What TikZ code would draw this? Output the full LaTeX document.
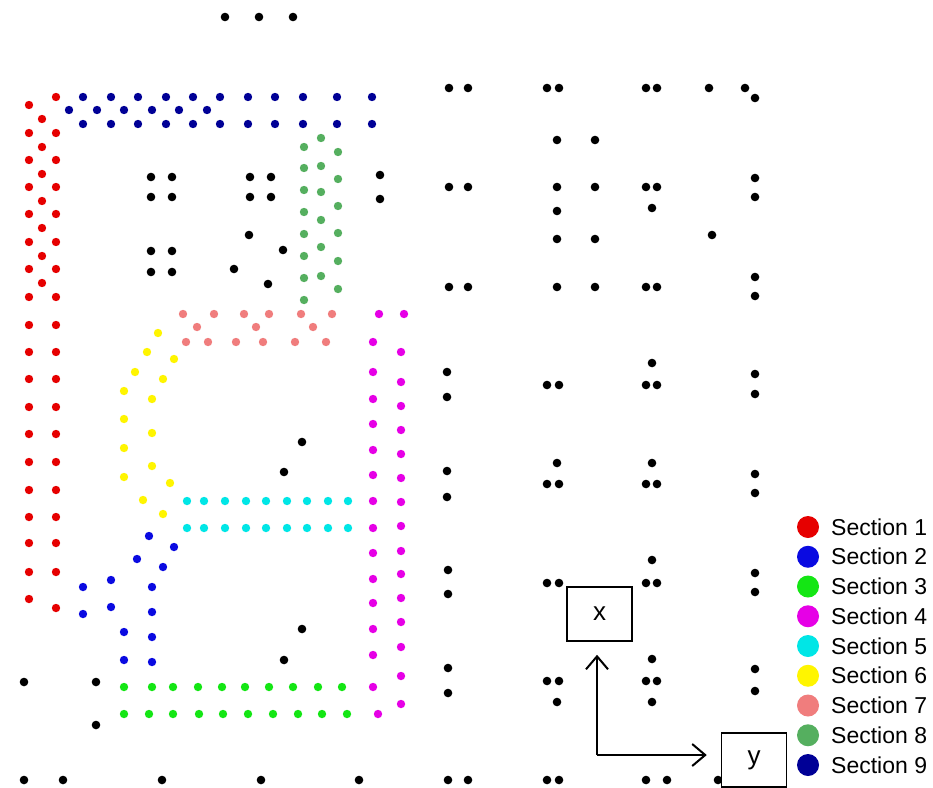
\documentclass[tikz,border=0pt]{standalone}
\usepackage{fontspec}
\setmainfont{Liberation Sans}
\usetikzlibrary{arrows.meta}
\definecolor{sOne}{RGB}{230,0,0}
\definecolor{sTwo}{RGB}{10,10,225}
\definecolor{sThree}{RGB}{20,230,20}
\definecolor{sFour}{RGB}{230,0,230}
\definecolor{sFive}{RGB}{0,230,230}
\definecolor{sSix}{RGB}{255,245,0}
\definecolor{sSeven}{RGB}{240,125,125}
\definecolor{sEight}{RGB}{85,175,95}
\definecolor{sNine}{RGB}{0,0,150}
\tikzset{
  legdot/.style={circle,inner sep=0pt,minimum size=22pt},
  legtext/.style={anchor=west,inner sep=0pt,font=\fontsize{23}{25}\selectfont},
  axbox/.style={draw,line width=1.5pt,fill=white,minimum width=65pt,minimum height=54pt,inner sep=0pt,font=\fontsize{26}{28}\selectfont},
  axline/.style={line width=2pt,-{Straight Barb[length=13pt,width=22pt,line width=2pt]}}
}
\begin{document}
\begin{tikzpicture}[x=1pt,y=-1pt]
\useasboundingbox[fill=white] (0,0) rectangle (933,787);
% black dots
\foreach \a/\b in {225/17,259/17,293/17,
151/177,172/177,151/197,172/197,250/177,271/177,250/197,271/197,380/175,380/199,249/235,283/250,151/251,172/251,151/272,172/272,234/269,268/284,
302/442,284/472,302/629,284/660,24/682,96/682,96/725,24/780,63/780,162/780,261/780,359/780,
449/88,468/88,547/88,559/88,646/88,657/88,709/88,745/88,755/98,557/140,595/140,
449/187,468/187,557/187,595/187,646/187,657/187,755/178,755/197,557/211,652/208,557/239,595/239,712/235,
449/287,468/287,557/287,595/287,646/287,657/287,755/277,755/296,
447/372,447/397,547/385,559/385,652/363,646/385,657/385,755/374,755/394,
447/471,447/497,557/463,547/484,559/484,652/463,646/484,657/484,755/474,755/493,
448/570,448/594,547/583,559/583,652/560,646/583,657/583,755/573,755/592,
448/668,448/693,547/681,559/681,557/702,652/659,646/681,657/681,652/702,755/669,755/691,
448/780,468/780,547/780,559/780,646/780,667/780,718/780}
  \fill[black] (\a,\b) circle (4.3pt);
% section 1
\foreach \a/\b in {29/105,56/97,42/119,29/133,56/133,42/147,29/160,56/160,42/174,29/187,56/187,42/201,29/214,56/214,42/228,29/242,56/242,42/256,29/269,56/269,42/283,29/297,56/297,29/599,56/608}
  \fill[sOne] (\a,\b) circle (4.2pt);
\foreach \b in {325,352,379,407,434,462,490,517,543,572}
  {\fill[sOne] (29,\b) circle (4.2pt); \fill[sOne] (56,\b) circle (4.2pt);}
% section 9
\foreach \a in {83,111,138,166,193,220,248,275,303,337,372}
  {\fill[sNine] (\a,97) circle (4.2pt); \fill[sNine] (\a,124) circle (4.2pt);}
\foreach \a in {69,97,124,152,179,207}
  \fill[sNine] (\a,110) circle (4.2pt);
% section 8
\foreach \a/\b in {321/138,304/147,338/152,304/168,321/166,338/179,304/190,321/192,338/206,304/212,321/220,338/233,304/234,321/247,304/256,338/261,304/278,321/276,338/289,304/300}
  \fill[sEight] (\a,\b) circle (4.2pt);
% section 7
\foreach \a in {183,214,244,269,301,332}
  \fill[sSeven] (\a,314) circle (4.2pt);
\foreach \a in {197,256,313}
  \fill[sSeven] (\a,327) circle (4.2pt);
\foreach \a in {186,208,236,263,295,326}
  \fill[sSeven] (\a,342) circle (4.2pt);
% section 4
\foreach \a/\b in {379/314,404/314,378/714}
  \fill[sFour] (\a,\b) circle (4.2pt);
\foreach \b in {342,372,399,424,450,475,501,528,553,579,603,629,655,687}
  \fill[sFour] (373,\b) circle (4.2pt);
\foreach \b in {352,382,406,430,454,478,502,526,551,574,598,622,647,676,704}
  \fill[sFour] (401,\b) circle (4.2pt);
% section 6
\foreach \a/\b in {158/333,147/352,174/359,135/372,163/379,124/391,152/399,124/419,152/433,124/448,152/466,124/477,170/483,143/500,163/514}
  \fill[sSix] (\a,\b) circle (4.2pt);
% section 5
\foreach \a in {187,204,225,246,266,287,307,328,348}
  {\fill[sFive] (\a,501) circle (4.2pt); \fill[sFive] (\a,528) circle (4.2pt);}
% section 2
\foreach \a/\b in {149/536,174/547,137/559,163/567,111/580,83/587,152/587,111/607,83/614,152/612,124/632,152/637,124/660,152/662}
  \fill[sTwo] (\a,\b) circle (4.2pt);
% section 3
\foreach \a in {124,152,173,198,222,245,269,293,318,342}
  \fill[sThree] (\a,687) circle (4.2pt);
\foreach \a in {124,149,173,199,223,248,273,298,322,347}
  \fill[sThree] (\a,714) circle (4.2pt);
% axes boxes
\node[axbox] (xb) at (599.5,614) {x};
\node[axbox] (yb) at (754,760) {y};
\coordinate (corner) at (597,755);
\draw[axline] (corner) -- ([yshift=-13pt]xb.south -| corner);
\draw[axline] (corner) -- ([xshift=-14pt]yb.west |- corner);
% legend
\foreach \i/\c in {1/sOne,2/sTwo,3/sThree,4/sFour,5/sFive,6/sSix,7/sSeven,8/sEight,9/sNine}
  {\node[legdot,fill=\c] (ld\i) at (808,{497.25+29.75*\i}) {};
   \node[legtext] (lt\i) at (831,{497.25+29.75*\i}) {Section \i};}
\end{tikzpicture}
\end{document}
